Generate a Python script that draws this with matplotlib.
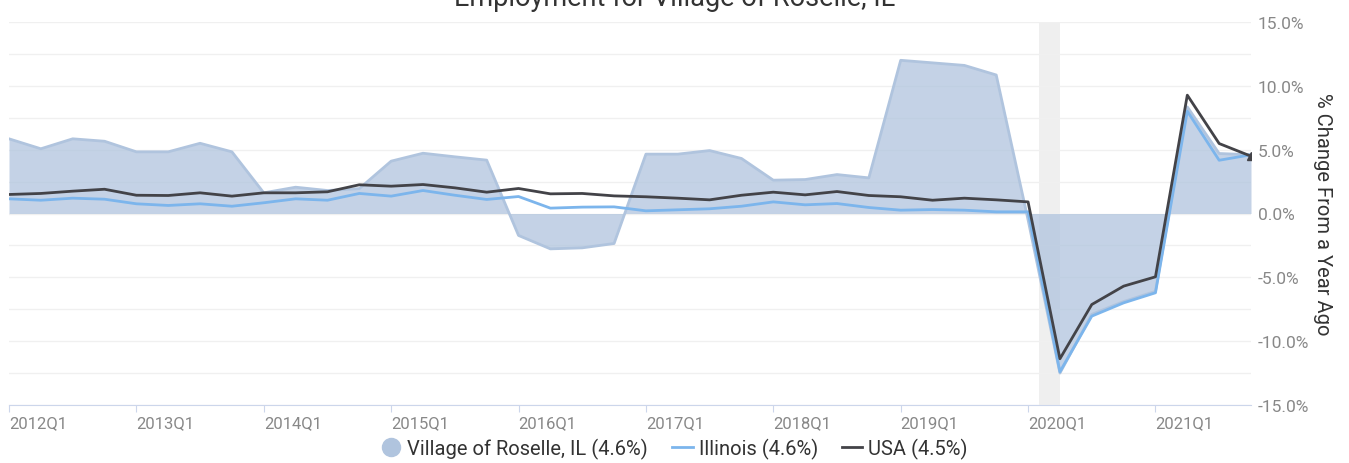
import matplotlib.pyplot as plt
from matplotlib.lines import Line2D

# Employment, % change from a year ago, 2012Q1 .. 2021Q4
roselle = [5.85, 5.07, 5.85, 5.66, 4.83, 4.83, 5.5, 4.83, 1.62, 2.06,
           1.8, 1.95, 4.1, 4.72, 4.44, 4.18, -1.72, -2.77, -2.69, -2.35,
           4.65, 4.65, 4.93, 4.31, 2.61, 2.66, 3.05, 2.79, 12.0, 11.8,
           11.6, 10.85, -0.5, -12.5, -7.9, -6.9, -6.1, 8.35, 4.7, 4.6]
illinois = [1.15, 1.04, 1.2, 1.12, 0.76, 0.63, 0.76, 0.57, 0.84, 1.15,
            1.04, 1.57, 1.36, 1.8, 1.43, 1.1, 1.33, 0.42, 0.5, 0.52,
            0.21, 0.29, 0.37, 0.57, 0.91, 0.68, 0.78, 0.47, 0.26, 0.31,
            0.26, 0.13, 0.13, -12.4, -8.04, -7.0, -6.21, 8.01, 4.17, 4.6]
usa = [1.49, 1.57, 1.75, 1.9, 1.43, 1.41, 1.62, 1.36, 1.62, 1.62,
       1.7, 2.25, 2.14, 2.27, 2.01, 1.67, 1.96, 1.54, 1.57, 1.38,
       1.31, 1.2, 1.07, 1.43, 1.67, 1.46, 1.72, 1.41, 1.31, 1.04,
       1.2, 1.07, 0.91, -11.38, -7.13, -5.69, -4.96, 9.27, 5.48, 4.49]
year_labels = ["2012Q1", "2013Q1", "2014Q1", "2015Q1", "2016Q1",
               "2017Q1", "2018Q1", "2019Q1", "2020Q1", "2021Q1"]
recession = (32.33, 33.0)  # Feb 2020 - Apr 2020 in quarter index units

plt.rcParams['font.family'] = ['Roboto', 'DejaVu Sans']

x = list(range(len(roselle)))

fig = plt.figure(figsize=(13.49, 4.64), dpi=100)
ax = fig.add_axes([9 / 1349, 1 - 406 / 464, 1242 / 1349, 383 / 464])

ax.axvspan(recession[0], recession[1], color='#efefef', zorder=0.5, lw=0)
ax.fill_between(x, 0, roselle, color='#b0c4de', alpha=0.75, lw=0, zorder=1)
ax.plot(x, roselle, color='#b0c4de', lw=2, zorder=1.5)
ax.plot(x, illinois, color='#7cb5ec', lw=2, zorder=2)
ax.plot(x, usa, color='#434348', lw=2, zorder=3)
ax.plot(x[-1], usa[-1], marker='^', color='#434348', ms=6, zorder=3)

ax.set_xlim(0, len(roselle) - 1)
ax.set_ylim(-15, 15)

yticks = [-15 + 2.5 * i for i in range(13)]
ax.set_yticks(yticks)
ax.yaxis.grid(True, color='#f0f0f0', lw=1)
ax.set_axisbelow(True)
ax.yaxis.tick_right()
ax.tick_params(axis='y', length=0, pad=5, labelsize=12.5, labelcolor='#888888')
ax.set_yticklabels([f"{v:.1f}%" if i % 2 == 0 else "" for i, v in enumerate(yticks)])
ax.yaxis.set_label_position('right')
ax.set_ylabel("% Change From a Year Ago", rotation=-90, fontsize=14.5,
              color='#333333', labelpad=16)

ax.set_xticks([4 * i for i in range(len(year_labels))])
ax.set_xticklabels(year_labels, ha='left')
ax.tick_params(axis='x', length=5, color='#ccd6eb', labelsize=12,
               labelcolor='#888888', pad=2)

for s in ['top', 'right', 'left']:
    ax.spines[s].set_visible(False)
ax.spines['bottom'].set_color('#ccd6eb')

fig.text(0.5, 1 - 6 / 464, "Employment for Village of Roselle, IL",
         ha='center', va='baseline', fontsize=19.5, color='#333333')

handles = [
    Line2D([], [], marker='o', ls='none', color='#b0c4de', ms=13),
    Line2D([], [], color='#7cb5ec', lw=2),
    Line2D([], [], color='#434348', lw=2),
]
labels = ["Village of Roselle, IL (4.6%)", "Illinois (4.6%)", "USA (4.5%)"]
fig.legend(handles, labels, loc='center', bbox_to_anchor=(0.5, 1 - 449 / 464),
           ncol=3, frameon=False, fontsize=14.5, handlelength=1.0,
           handletextpad=0.3, columnspacing=1.2, labelcolor='#333333')

fig.savefig("out.png", dpi=100)
